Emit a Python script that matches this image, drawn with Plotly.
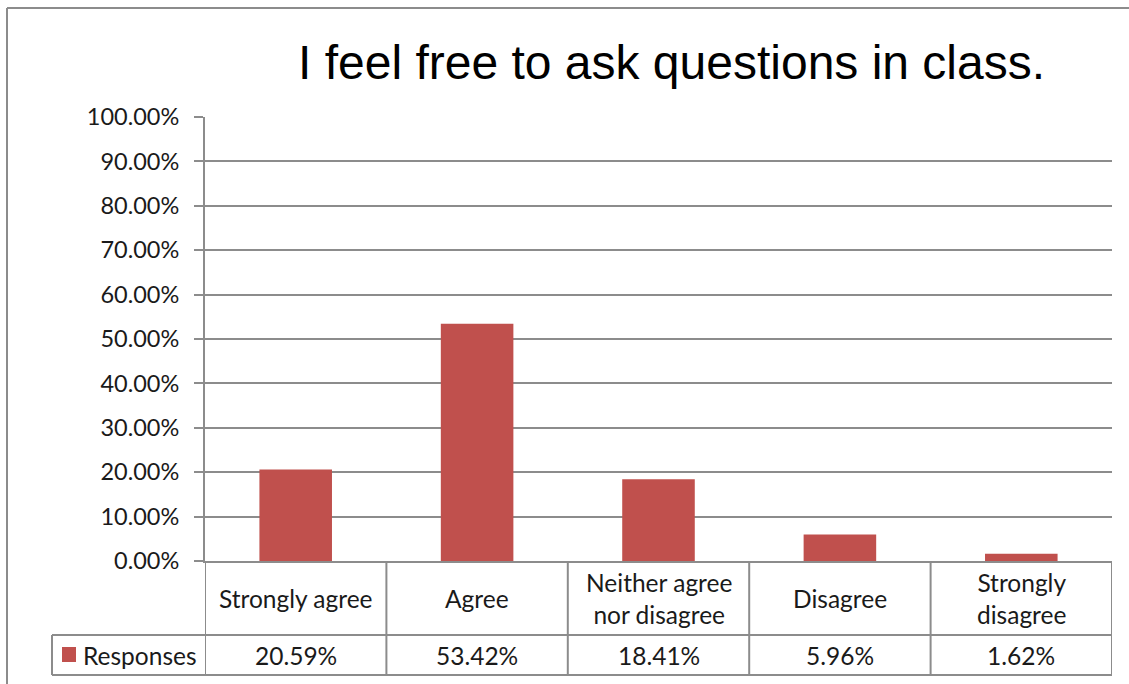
import plotly.graph_objects as go

categories = ["Strongly agree", "Agree", "Neither agree<br>nor disagree", "Disagree", "Strongly<br>disagree"]
values = [20.59, 53.42, 18.41, 5.96, 1.62]
series_name = "Responses"
tick_vals = [0, 10, 20, 30, 40, 50, 60, 70, 80, 90, 100]
tick_text = [f"{v:.2f}%" for v in tick_vals]
title_text = "I feel free to ask questions in class."

W, H = 1129, 684
L, R, T, B = 205, 1112, 117, 561
PW, PH = R - L, B - T

def py(p):  # pixel y -> paper y
    return (B - p) / PH

def px(p):
    return (p - L) / PW

BAR = "#C0504D"
GRID = "#8C8C8C"
FONT = "Lato"
TXT = "#1a1a1a"

fig = go.Figure()
fig.add_trace(go.Bar(
    x=list(range(len(categories))), y=values, name=series_name,
    marker=dict(color=BAR, line=dict(width=0)), showlegend=False,
))

shapes = []
line = dict(color=GRID, width=2)
# table horizontal lines
shapes.append(dict(type="line", xref="paper", yref="paper", x0=px(52), x1=1, y0=py(635), y1=py(635), line=line))
shapes.append(dict(type="line", xref="paper", yref="paper", x0=px(52), x1=1, y0=py(675), y1=py(675), line=line))
shapes.append(dict(type="line", xref="paper", yref="paper", x0=px(52), x1=px(52), y0=py(635), y1=py(675), line=line))
# table vertical lines at category boundaries
for i in range(len(categories) + 1):
    shapes.append(dict(type="line", xref="x", yref="paper", x0=i - 0.5, x1=i - 0.5,
                       y0=0, y1=py(675), line=line))
# legend key
shapes.append(dict(type="rect", xref="paper", yref="paper", x0=px(62), x1=px(76),
                   y0=py(662), y1=py(647), fillcolor=BAR, line=dict(width=0)))
# outer chart border (left and top)
shapes.append(dict(type="line", xref="paper", yref="paper", x0=px(7), x1=px(7),
                   y0=py(8), y1=py(690), line=line))
shapes.append(dict(type="line", xref="paper", yref="paper", x0=px(7), x1=px(1135),
                   y0=py(8), y1=py(8), line=line))

annotations = []
for i, (c, v) in enumerate(zip(categories, values)):
    annotations.append(dict(x=i, y=py(598), xref="x", yref="paper", text=c, showarrow=False,
                            font=dict(family=FONT, size=24.5, color=TXT), xanchor="center", yanchor="middle"))
    annotations.append(dict(x=i, y=py(655), xref="x", yref="paper", text=f"{v:.2f}%", showarrow=False,
                            font=dict(family=FONT, size=24.5, color=TXT), xanchor="center", yanchor="middle"))
annotations.append(dict(x=px(81), y=py(655), xref="paper", yref="paper", text=series_name, showarrow=False,
                        font=dict(family=FONT, size=24.5, color=TXT), xanchor="left", yanchor="middle"))
annotations.append(dict(x=px(671), y=py(63), xref="paper", yref="paper", text=title_text, showarrow=False,
                        font=dict(family="Liberation Sans", size=48, color="#000000"), xanchor="center", yanchor="middle"))

fig.update_layout(
    width=W, height=H,
    margin=dict(l=L, r=W - R, t=T, b=H - B, pad=0),
    paper_bgcolor="white", plot_bgcolor="white",
    bargap=0.6,
    shapes=shapes, annotations=annotations,
    xaxis=dict(range=[-0.5, len(categories) - 0.5], showticklabels=False, showgrid=False,
               zeroline=False, showline=True, linecolor=GRID, linewidth=2, ticks=""),
    yaxis=dict(range=[0, 100], tickvals=tick_vals, ticktext=tick_text, showgrid=True,
               gridcolor=GRID, gridwidth=2, zeroline=False, showline=True, linecolor=GRID,
               linewidth=2, ticks="outside", ticklen=9, tickwidth=2, tickcolor=GRID,
               ticklabelstandoff=10,
               tickfont=dict(family=FONT, size=23.5, color=TXT)),
)

fig.write_html("out.html", config={"displayModeBar": False},
               post_script="document.body.style.margin='0';document.body.style.overflow='hidden';")
